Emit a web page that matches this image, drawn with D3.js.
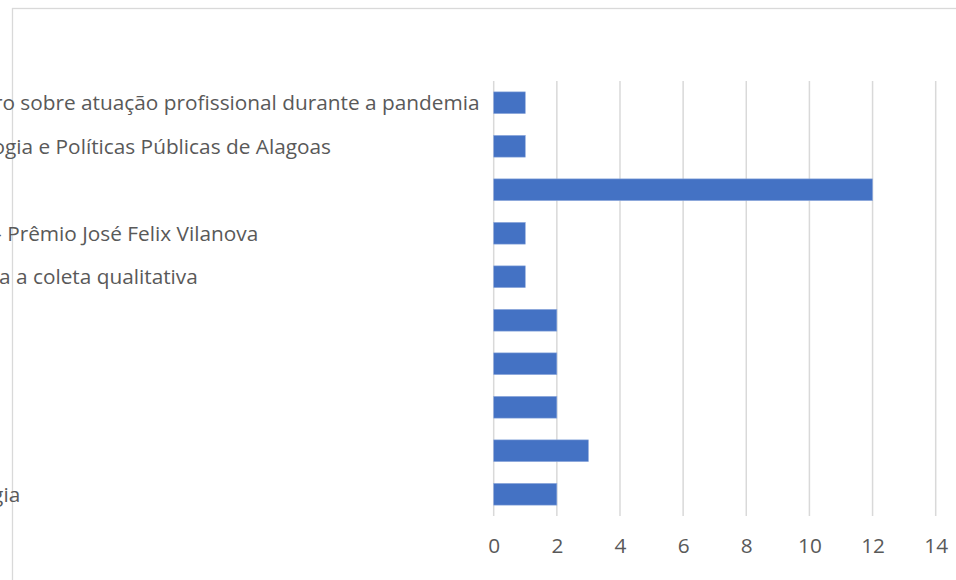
<!DOCTYPE html><html><head><meta charset="utf-8">
<script src="https://cdn.jsdelivr.net/npm/d3@7"></script>
<style>body{margin:0;background:#fff}</style></head><body><svg id="c" width="956" height="580"></svg>
<script>
const categories = [
  "Capítulo de livro sobre atuação profissional durante a pandemia",
  "Guia de Psicologia e Políticas Públicas de Alagoas",
  "Lives",
  "Homenagens – Prêmio José Felix Vilanova",
  "Protocolos para a coleta qualitativa",
  "Notas técnicas",
  "Cartilhas",
  "Podcasts",
  "Eventos",
  "Dia da Psicologia"
];
const values = [1, 1, 12, 1, 1, 2, 2, 2, 3, 2];
const xTicks = [0, 2, 4, 6, 8, 10, 12, 14];

const W = 956, H = 580;
const FONT = "'Open Sans', 'Noto Sans', sans-serif";
const FS = 20.8;
const svg = d3.select("#c");

// chart area border (extends past the right/bottom edges)
svg.append("rect").attr("x", 12.5).attr("y", 8.5).attr("width", W + 20).attr("height", H + 20)
  .attr("fill", "#fff").attr("stroke", "#d9d9d9").attr("stroke-width", 1.3);

const x = d3.scaleLinear().domain([0, 14]).range([493.7, 935.7]);
const y = d3.scaleBand().domain(categories).range([81, 516]).paddingInner(0.5).paddingOuter(0.25);

// gridlines
svg.append("g").selectAll("line").data(xTicks).join("line")
  .attr("x1", d => x(d)).attr("x2", d => x(d)).attr("y1", 81).attr("y2", 516)
  .attr("stroke", "#d9d9d9").attr("stroke-width", 1.5);

// bars
svg.append("g").selectAll("rect").data(values).join("rect")
  .attr("x", x(0)).attr("y", (d, i) => y(categories[i]))
  .attr("width", d => x(d) - x(0)).attr("height", y.bandwidth())
  .attr("fill", "#4472c4").attr("stroke", "#8faadc").attr("stroke-width", 0.6);

// x axis tick labels
const xAxis = d3.axisBottom(x).tickValues(xTicks).tickSize(0).tickPadding(0);
const gx = svg.append("g").attr("transform", "translate(0,538)").call(xAxis);
gx.select(".domain").remove();
gx.selectAll("text").attr("dy", "0.71em").style("font-family", FONT).style("font-size", FS + "px").attr("fill", "#595959");

// category labels: left aligned at a common start, computed so the first label ends near the axis
const probe = svg.append("text").style("font-family", FONT).style("font-size", FS + "px").text(categories[0]);
const w0 = probe.node().getComputedTextLength(); probe.remove();
const labelStart = 479.5 - w0;
svg.append("g").selectAll("text").data(categories).join("text")
  .attr("x", labelStart).attr("y", d => y(d) + y.bandwidth() / 2).attr("dy", "0.35em")
  .style("font-family", FONT).style("font-size", FS + "px").attr("fill", "#595959")
  .text(d => d);
</script></body></html>
